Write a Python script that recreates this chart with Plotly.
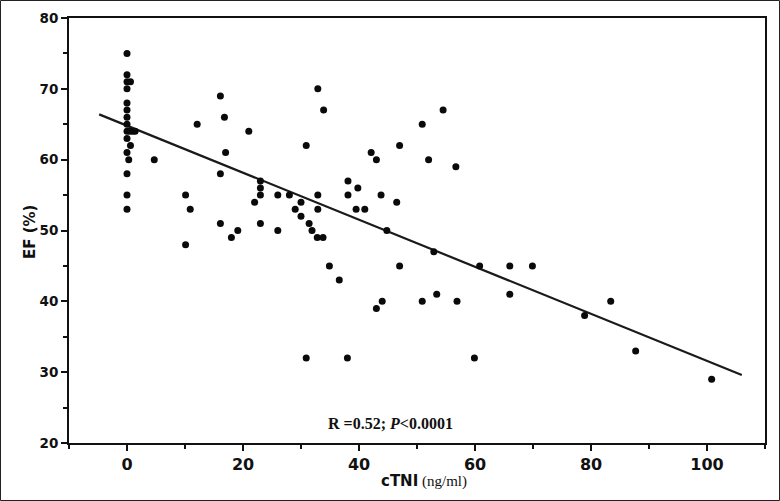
import plotly.graph_objects as go

# cTNI (ng/ml) values
ctni = [0, 0, 0, 0.6, 0, 0, 0, 0, 0, 0, 0.5, 1.0, 1.4, 0, 0.6, 0, 0.3, 0, 0, 0,
        4.7, 10.1, 10.9, 10.1, 12.1, 16.1, 16.8, 17.0, 16.1, 16.1, 19.1, 18.0,
        21.0, 23.0, 23.0, 23.0, 22.0, 23.0, 26.0, 26.0, 28.0, 30.0, 29.0, 30.0,
        30.9, 31.4, 31.9, 32.8, 33.8, 32.9, 33.9, 32.9, 32.9, 38.1, 38.1, 39.8,
        39.5, 41.0, 42.1, 43.0, 43.8, 54.5, 50.9, 47.0, 52.0, 56.7, 46.5, 44.8,
        34.9, 36.6, 43.0, 44.0, 30.9, 38.0, 52.9, 47.0, 60.8, 66.0, 69.9, 50.9,
        53.4, 56.9, 59.9, 66.0, 78.9, 83.4, 87.7, 100.8]
# EF (%) values
ef = [75, 72, 71, 71, 70, 68, 67, 66, 65, 64, 64, 64, 64, 63, 62, 61, 60, 58, 55, 53,
      60, 55, 53, 48, 65, 69, 66, 61, 58, 51, 50, 49,
      64, 57, 56, 55, 54, 51, 55, 50, 55, 54, 53, 52,
      62, 51, 50, 49, 49, 70, 67, 55, 53, 57, 55, 56,
      53, 53, 61, 60, 55, 67, 65, 62, 60, 59, 54, 50,
      45, 43, 39, 40, 32, 32, 47, 45, 45, 45, 45, 40,
      41, 40, 32, 41, 38, 40, 33, 29]

# regression line
fit_intercept = 64.8
fit_slope = -0.332
fit_x = [-4.8, 106.0]
fit_y = [fit_intercept + fit_slope * v for v in fit_x]

x_ticks = [0, 20, 40, 60, 80, 100]
y_ticks = [20, 30, 40, 50, 60, 70, 80]

fig = go.Figure()
fig.add_trace(go.Scatter(x=fit_x, y=fit_y, mode="lines",
                         line=dict(color="#1a1a1a", width=2.2), showlegend=False))
fig.add_trace(go.Scatter(x=ctni, y=ef, mode="markers",
                         marker=dict(color="#0a0a0a", size=7, line=dict(width=0)),
                         showlegend=False))

W, H = 780, 501
L, R, T, B = 69, 15, 18, 58
pw, ph = W - L - R, H - T - B

fig.update_layout(
    width=W, height=H,
    margin=dict(l=L, r=R, t=T, b=B),
    paper_bgcolor="white", plot_bgcolor="white",
    xaxis=dict(range=[-10, 110], tickvals=x_ticks, ticktext=[str(v) for v in x_ticks],
               automargin=False,
               showgrid=False, zeroline=False, showline=True, mirror=True,
               linecolor="#111", linewidth=2, ticks="outside", ticklen=6, tickwidth=2,
               tickcolor="#111",
               minor=dict(ticks="outside", ticklen=4, tickwidth=1.5, tickcolor="#111", dtick=10, tick0=0),
               tickfont=dict(family="DejaVu Sans", size=16, color="#111", weight="bold")),
    yaxis=dict(range=[20, 80], tickvals=y_ticks, ticktext=[str(v) for v in y_ticks],
               automargin=False,
               showgrid=False, zeroline=False, showline=True, mirror=True,
               linecolor="#111", linewidth=2, ticks="outside", ticklen=6, tickwidth=2,
               tickcolor="#111",
               minor=dict(ticks="outside", ticklen=4, tickwidth=1.5, tickcolor="#111", dtick=5, tick0=0),
               tickfont=dict(family="DejaVu Sans", size=13.5, color="#111", weight="bold")),
    annotations=[
        dict(text="<b>EF (%)</b>", xref="paper", yref="paper", textangle=-90,
             x=(30 - L) / pw, y=(T + ph - 232) / ph, xanchor="center", yanchor="middle",
             showarrow=False, font=dict(family="DejaVu Sans", size=15, color="#111")),
        dict(text="<span style='font-family:DejaVu Sans'><b>cTNI</b></span> (ng/ml)",
             xref="paper", yref="paper",
             x=(424 - L) / pw, y=(T + ph - 481) / ph, xanchor="center", yanchor="middle",
             showarrow=False, font=dict(family="Liberation Serif", size=15, color="#111")),
        dict(text="<b>R =0.52; <i>P</i>&lt;0.0001</b>",
             xref="paper", yref="paper",
             x=(390 - L) / pw, y=(T + ph - 423) / ph, xanchor="center", yanchor="middle",
             showarrow=False, font=dict(family="Liberation Serif", size=16, color="#111")),
    ],
    shapes=[
        dict(type="rect", xref="paper", yref="paper",
             x0=(0.5 - L) / pw, x1=(W - 0.5 - L) / pw,
             y0=(T + ph - (H - 0.5)) / ph, y1=(T + ph - 0.5) / ph,
             line=dict(color="#222", width=1), layer="above"),
    ],
)

fig.write_html("out.html", config={"displayModeBar": False},
               post_script="document.body.style.margin='0px';document.body.style.overflow='hidden';")
